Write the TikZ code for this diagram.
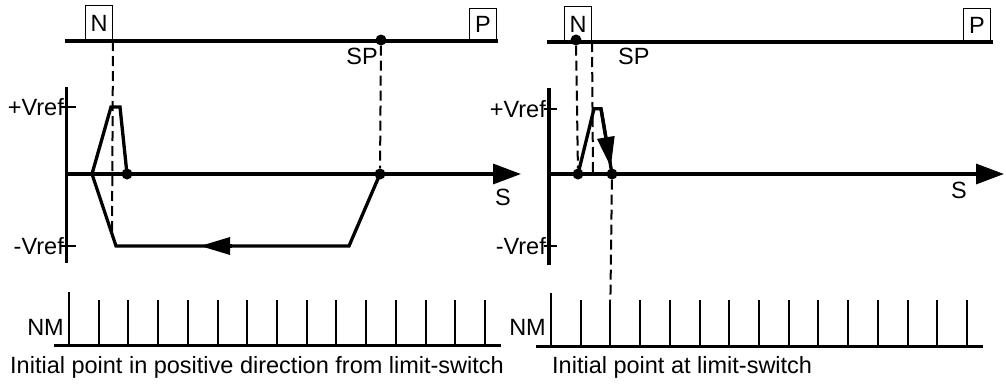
\documentclass[tikz,border=0pt]{standalone}
\usepackage{fontspec}
\setmainfont{Liberation Sans}
\usetikzlibrary{arrows.meta, positioning}
\tikzset{
  axisline/.style={line width=3.3pt},
  profile/.style={line width=3.3pt, line join=miter},
  guide/.style={line width=2pt, dash pattern=on 10pt off 5pt},
  pulse/.style={line width=2pt},
  switchbox/.style={draw, line width=1pt, minimum width=27pt, minimum height=#1,
    inner sep=0pt, anchor=south west, font=\fontsize{23.5}{28}\selectfont},
  switchbox/.default=35pt,
  dotmark/.style={circle, fill=black, inner sep=0pt, minimum size=11pt},
  lbl/.style={font=\fontsize{23.5}{28}\selectfont, inner sep=0pt},
  bigtip/.style={-{Triangle[length=28pt, width=20pt]}},
  flowtip/.style={-{Triangle[length=30pt, width=17pt]}}
}

\begin{document}
\begin{tikzpicture}[x=1pt, y=-1pt]
\useasboundingbox (0,0) rectangle (1006,383);

% Left panel: position line
\coordinate (tlA) at (65,41);
\coordinate (tlB) at (498,41);
\draw[axisline] (tlA) -- (tlB);
\node[switchbox] (nL) at (85,41) {N};
\node[switchbox=32pt] (pL) at (469,41) {P};
\node[dotmark] (spL) at (381,40) {};
\node[lbl, anchor=east] (spLlbl) at (378,56) {SP};

% Left panel: velocity axes
\coordinate (yLa) at (66.7,87);
\coordinate (yLb) at (66.7,263);
\coordinate (sLa) at (66.7,174);
\coordinate (sLb) at (521,174);
\draw[axisline] (yLa) -- (yLb);
\draw[axisline, bigtip] (sLa) -- (sLb);
\draw[pulse] (60,107) -- (76,107);
\draw[pulse] (60,246) -- (76,246);
\node[lbl, anchor=east] (vpL) at (64,107) {+Vref};
\node[lbl, anchor=east] (vmL) at (64,246) {-Vref};
\node[lbl] (sL) at (503,197) {S};

% Left panel: velocity profile
\node[dotmark] (p1) at (380,174) {};
\coordinate (p2) at (349,246);
\coordinate (p3) at (116,246);
\coordinate (p4) at (92,174);
\coordinate (p5) at (111,107);
\coordinate (p6) at (120,107);
\node[dotmark] (p7) at (127,174) {};
\draw[profile] (p1.center) -- (p2) -- (p3) -- (p4) -- (p5) -- (p6) -- (p7.center);
\coordinate (aLb) at (232,246);
\coordinate (aLt) at (200,246);
\draw[profile, flowtip] (aLb) -- (aLt);

% Left panel: guide lines
\coordinate (gL) at (112,234);
\draw[guide] (nL.south east) -- (gL);
\draw[guide] (spL) -- (p1);

% Left panel: zero marks
\draw[axisline] (54,345.7) -- (501,345.7);
\draw[pulse] (69,292) -- (69,345.7);
\foreach \k in {1,...,14}
  \draw[pulse] (69+29.71*\k,300) -- (69+29.71*\k,345.7);
\node[lbl, anchor=east] (nmL) at (64,327) {NM};
\node[lbl, anchor=west] (capL) at (10,367) {Initial point in positive direction from limit-switch};

% Right panel: position line
\coordinate (trA) at (547,42);
\coordinate (trB) at (993,42);
\draw[axisline] (trA) -- (trB);
\node[switchbox] (nR) at (564,42) {N};
\node[switchbox=33pt] (pR) at (963,42) {P};
\node[dotmark] (spR) at (576,40) {};
\node[lbl, anchor=west] (spRlbl) at (618,56) {SP};

% Right panel: velocity axes
\coordinate (yRa) at (549,88);
\coordinate (yRb) at (549,265);
\coordinate (sRa) at (549,174);
\coordinate (sRb) at (1004,174);
\draw[axisline] (yRa) -- (yRb);
\draw[axisline, bigtip] (sRa) -- (sRb);
\draw[pulse] (544,108.7) -- (557,108.7);
\draw[pulse] (544,246) -- (557,246);
\node[lbl, anchor=east] (vpR) at (546,108.7) {+Vref};
\node[lbl, anchor=east] (vmR) at (546,246) {-Vref};
\node[lbl] (sR) at (959,190) {S};

% Right panel: velocity profile
\node[dotmark] (q1) at (578,174) {};
\coordinate (q2) at (594,108.7);
\coordinate (q3) at (601,108.7);
\node[dotmark] (q4) at (612,174) {};
\draw[profile] (q1.center) -- (q2) -- (q3) -- (q4.center);
\coordinate (qtip) at (610.8,167);
\draw[profile, flowtip] (q3) -- (qtip);

% Right panel: guide lines
\coordinate (gR) at (593,174);
\coordinate (mR) at (610.4,300);
\draw[guide] (spR) -- (q1);
\draw[guide] (nR.south east) -- (gR);
\draw[guide] (q4) -- (mR);

% Right panel: zero marks
\draw[axisline] (536,346.7) -- (983,346.7);
\draw[pulse] (551,293) -- (551,346.7);
\foreach \k in {1,...,14}
  \draw[pulse] (551+29.71*\k,300) -- (551+29.71*\k,346.7);
\node[lbl, anchor=east] (nmR) at (546,327) {NM};
\node[lbl, anchor=west] (capR) at (552,367) {Initial point at limit-switch};

\end{tikzpicture}
\end{document}
